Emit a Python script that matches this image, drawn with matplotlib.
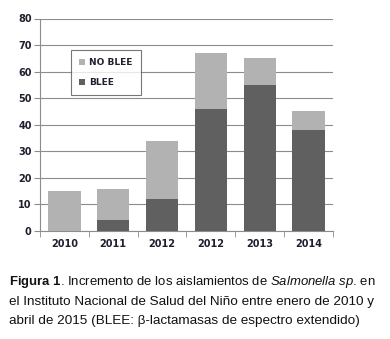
import matplotlib
matplotlib.use("Agg")
import matplotlib.pyplot as plt
import numpy as np

# data
years = ["2010", "2011", "2012", "2012", "2013", "2014"]
blee = [0, 4, 12, 46, 55, 38]
no_blee = [15, 12, 22, 21, 10, 7]

light = "#b2b2b2"
dark = "#606060"

plt.rcParams["mathtext.fontset"] = "custom"
plt.rcParams["mathtext.rm"] = "Liberation Sans"
plt.rcParams["mathtext.it"] = "Liberation Sans:italic"
plt.rcParams["mathtext.bf"] = "Liberation Sans:bold"

fig = plt.figure(figsize=(3.9, 3.39), dpi=100)
ax = fig.add_axes([40 / 390, 1 - 231 / 339, 293 / 390, 212.5 / 339])

x = np.arange(len(years))
ax.bar(x, blee, width=0.66, color=dark, zorder=3, label="BLEE")
ax.bar(x, no_blee, width=0.66, bottom=blee, color=light, zorder=3, label="NO BLEE")

ax.set_xlim(-0.5, len(years) - 0.5)
ax.set_ylim(0, 80)
ax.set_yticks(range(0, 81, 10))
ax.yaxis.grid(True, color="#8c8c8c", linewidth=0.8, zorder=0)

for s in ["top", "right"]:
    ax.spines[s].set_visible(False)
ax.spines["left"].set_color("#8c8c8c")
ax.spines["bottom"].set_color("#8c8c8c")
ax.tick_params(axis="y", length=4, color="#8c8c8c", labelsize=7, pad=2)
ax.tick_params(axis="x", length=0, labelsize=7, pad=6)
ax.set_xticks(x)
ax.set_xticklabels(years)
ax.set_xticks(np.arange(-0.5, len(years)), minor=True)
ax.tick_params(axis="x", which="minor", length=4, color="#8c8c8c")
for lab in ax.get_xticklabels() + ax.get_yticklabels():
    lab.set_fontweight("bold")
    lab.set_color("#1f1f2f")

handles, labels = ax.get_legend_handles_labels()
leg = ax.legend(handles[::-1], labels[::-1], loc="upper left",
                bbox_to_anchor=(31 / 293, 1 - 31.5 / 212.5), frameon=True,
                fancybox=False, edgecolor="#555555", fontsize=6.5,
                handlelength=0.6, handleheight=0.6, labelspacing=1.2,
                borderpad=0.9, handletextpad=0.5, borderaxespad=0)
leg.get_frame().set_linewidth(0.8)
for t in leg.get_texts():
    t.set_fontweight("bold")
    t.set_color("#1f1f2f")

cap = dict(family="Liberation Sans", color="#111111", va="center")
fig.text(9 / 390, 1 - 282 / 339, "$\\mathbf{Figura\\ 1}$. Incremento de los aislamientos de $\\mathit{Salmonella\\ sp}$. en",
         fontsize=9.45, **cap)
fig.text(9 / 390, 1 - 302 / 339, "el Instituto Nacional de Salud del Niño entre enero de 2010 y", fontsize=9.7, **cap)
fig.text(9 / 390, 1 - 321 / 339, "abril de 2015 (BLEE: β-lactamasas de espectro extendido)", fontsize=9.7, **cap)

fig.savefig("out.png", dpi=100)
